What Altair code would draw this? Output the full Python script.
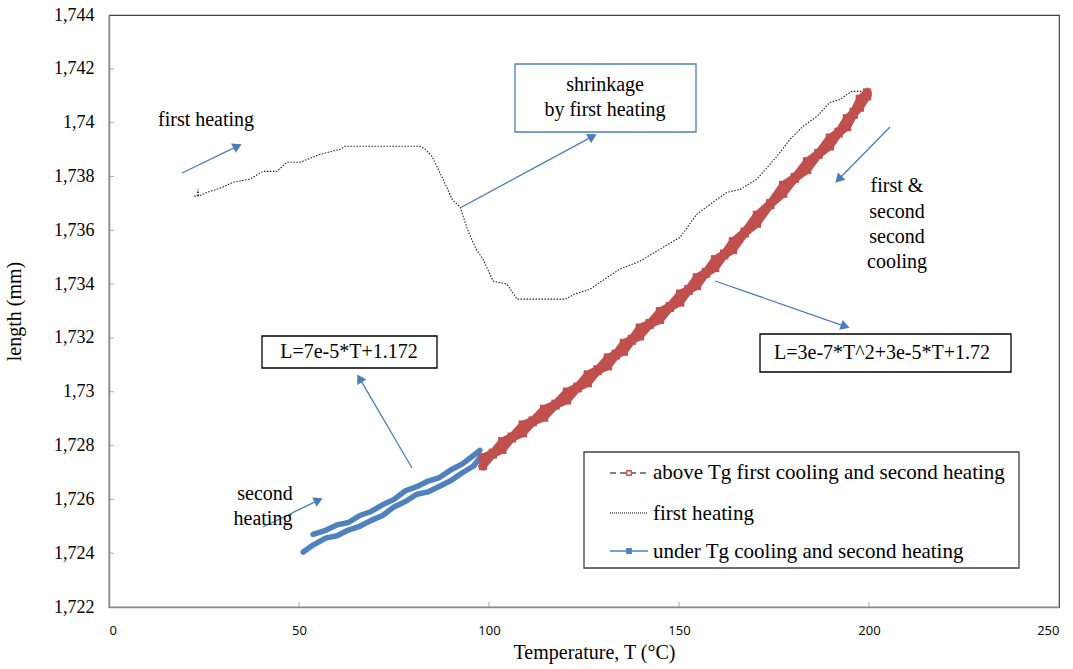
import math
import altair as alt
import pandas as pd

# ---------------- data ----------------
fh_T = [22.4, 23.2, 23.4, 23.6, 25.8, 29.2, 32.6, 37.1, 40.5, 44.2, 46.8, 50.3,
        55.5, 60.8, 62.1, 70.0, 81.8, 83.2, 85.0, 87.9, 90.3, 92.4, 94.5, 96.6,
        98.4, 101.1, 104.7, 107.4, 118.7, 120.0, 122.6, 126.6, 130.5, 134.5,
        139.7, 145.0, 150.3, 154.7, 158.9, 162.6, 166.1, 170.5, 175.8, 179.2,
        182.6, 186.3, 189.7, 192.4, 194.2, 195.5, 198.4]
fh_L = [1.73727, 1.73727, 1.73752, 1.73727, 1.73741, 1.73756, 1.73778, 1.73790,
        1.73819, 1.73819, 1.73853, 1.73853, 1.73882, 1.73901, 1.73912, 1.73912,
        1.73912, 1.73901, 1.73875, 1.73790, 1.73715, 1.73686, 1.73597, 1.73530,
        1.73493, 1.73411, 1.73400, 1.73344, 1.73344, 1.73344, 1.73363, 1.73381,
        1.73419, 1.73456, 1.73485, 1.73530, 1.73574, 1.73660, 1.73704, 1.73741,
        1.73752, 1.73790, 1.73875, 1.73938, 1.73986, 1.74023, 1.74075, 1.74086,
        1.74105, 1.74116, 1.74116]

red_T = [98.4, 101.0, 103.5, 106.0, 108.9, 111.5, 114.5, 117.5, 120.5, 123.3,
         126.0, 128.6, 131.3, 133.4, 135.5, 137.6, 139.7, 142.3, 145.0, 147.6,
         150.3, 152.5, 154.7, 157.1, 159.5, 161.9, 164.2, 167.3, 170.5, 174.0,
         177.4, 180.5, 183.7, 186.7, 189.7, 192.0, 194.2, 196.0, 197.6, 199.5]
red_cool_L = [1.72756, 1.72773, 1.72816, 1.72833, 1.72878, 1.72893, 1.72936, 1.72955,
              1.73000, 1.73019, 1.73064, 1.73083, 1.73127, 1.73141, 1.73181, 1.73196,
              1.73238, 1.73255, 1.73299, 1.73318, 1.73364, 1.73381, 1.73425, 1.73445,
              1.73492, 1.73513, 1.73559, 1.73595, 1.73657, 1.73700, 1.73768, 1.73798,
              1.73856, 1.73887, 1.73944, 1.73966, 1.74016, 1.74040, 1.74088, 1.74112]
red_heat_L = [1.72724, 1.72767, 1.72784, 1.72827, 1.72846, 1.72887, 1.72904, 1.72949,
              1.72968, 1.73013, 1.73032, 1.73077, 1.73095, 1.73135, 1.73149, 1.73190,
              1.73206, 1.73249, 1.73267, 1.73312, 1.73332, 1.73375, 1.73393, 1.73439,
              1.73460, 1.73507, 1.73527, 1.73589, 1.73625, 1.73694, 1.73736, 1.73792,
              1.73824, 1.73881, 1.73912, 1.73960, 1.73984, 1.74030, 1.74056, 1.74098]

blue_cool_T = [53.7, 57, 60, 63, 66, 69, 72, 75, 78, 81, 84, 87, 90, 93, 96, 97.6]
blue_cool_L = [1.72470, 1.72485, 1.72505, 1.72514, 1.72540, 1.72555, 1.72580, 1.72600,
               1.72632, 1.72647, 1.72668, 1.72681, 1.72710, 1.72732, 1.72764, 1.72782]
blue_heat_T = [51.1, 53.7, 57, 60, 63, 66, 69, 72, 75, 78, 81, 84, 87, 90, 93, 96, 97.6]
blue_heat_L = [1.72404, 1.72430, 1.72456, 1.72465, 1.72486, 1.72500, 1.72522, 1.72540,
               1.72572, 1.72592, 1.72619, 1.72628, 1.72649, 1.72670, 1.72699, 1.72725,
               1.72755]

x_ticks = [0, 50, 100, 150, 200, 250]
y_ticks = [1.722, 1.724, 1.726, 1.728, 1.73, 1.732, 1.734, 1.736, 1.738, 1.74, 1.742, 1.744]

legend_labels = ["above Tg first cooling and second heating", "first heating",
                 "under Tg cooling and second heating"]

# ---------------- layout ----------------
LEFT, TOP, W, H = 109, 15, 950, 592
X0, X1, Y0, Y1 = 0, 250, 1.722, 1.744
SERIF = "Liberation Serif"
RED, BLUE, ARROW = "#C0504D", "#4F81BD", "#4A7EBB"


def tx(px):
    return X0 + (px - LEFT) / W * (X1 - X0)


def ty(py):
    return Y1 - (py - TOP) / H * (Y1 - Y0)


xs = alt.Scale(domain=[X0, X1], nice=False, zero=False)
ys = alt.Scale(domain=[Y0, Y1], nice=False, zero=False)

X = alt.X("T:Q", scale=xs, axis=alt.Axis(
    values=x_ticks, format="d", title="Temperature, T (°C)", grid=False, ticks=False,
    labelFont="Open Sans", labelFontSize=13, labelPadding=17, labelColor="black",
    titleFont=SERIF, titleFontSize=20, titleFontWeight="normal", titleColor="black",
    titlePadding=5, titleX=485))
Y = alt.Y("L:Q", scale=ys, axis=alt.Axis(
    values=y_ticks, labelExpr="replace(format(datum.value, '.3~f'), '.', ',')",
    title="length (mm)", grid=False, ticks=False,
    labelFont=SERIF, labelFontSize=18, labelPadding=15, labelColor="black",
    titleFont=SERIF, titleFontSize=20, titleFontWeight="normal", titleColor="black",
    titlePadding=29))
Xn = alt.X("T:Q", scale=xs)
Yn = alt.Y("L:Q", scale=ys)

# series frames
fh = pd.DataFrame({"T": fh_T, "L": fh_L, "i": range(len(fh_T))})
rows = []
for k, (t, l) in enumerate(zip(red_T, red_cool_L)):
    rows.append({"T": t, "L": l, "s": "c", "i": k})
for k, (t, l) in enumerate(zip(red_T, red_heat_L)):
    rows.append({"T": t, "L": l, "s": "h", "i": k})
red = pd.DataFrame(rows)
rows = []
for k, (t, l) in enumerate(zip(blue_cool_T, blue_cool_L)):
    rows.append({"T": t, "L": l, "s": "c", "i": k})
for k, (t, l) in enumerate(zip(blue_heat_T, blue_heat_L)):
    rows.append({"T": t, "L": l, "s": "h", "i": k})
blue = pd.DataFrame(rows)

fh_layer = alt.Chart(fh).mark_line(color="#222222", strokeWidth=1.1, strokeDash=[1.5, 1.5]).encode(
    x=X, y=Y, order="i:Q")
blue_layer = alt.Chart(blue).mark_line(color=BLUE, strokeWidth=5.5, strokeCap="round",
                                       strokeJoin="round").encode(x=Xn, y=Yn, detail="s:N", order="i:Q")
red_layer = alt.Chart(red).mark_line(
    color=RED, strokeWidth=7.5, strokeCap="square", strokeJoin="miter",
    point=alt.OverlayMarkDef(shape="square", size=70, filled=True, color=RED, opacity=1)
).encode(x=Xn, y=Yn, detail="s:N", order="i:Q")

# interior ticks
xt = pd.DataFrame({"T": x_ticks[1:-1], "L": [Y0] * 4})
yt = pd.DataFrame({"T": [X0] * (len(y_ticks) - 2), "L": y_ticks[1:-1]})
xtick_layer = alt.Chart(xt).mark_tick(orient="vertical", size=10, thickness=1,
                                      color="#888888", clip=True).encode(x=Xn, y=Yn)
ytick_layer = alt.Chart(yt).mark_tick(orient="horizontal", size=10, thickness=1,
                                      color="#888888", clip=True).encode(x=Xn, y=Yn)

# annotation arrows (pixel positions converted to data units)
arrows_px = [((182, 173), (242, 144)), ((460, 208), (597, 134)), ((890, 127), (835, 183)),
             ((715, 281), (850, 328)), ((412, 468), (357, 374)), ((263, 527), (323, 498))]
ar_rows, hd_rows = [], []
for (a, b) in arrows_px:
    dx, dy = b[0] - a[0], b[1] - a[1]
    ln = math.hypot(dx, dy)
    ux, uy = dx / ln, dy / ln
    ar_rows.append({"T": tx(a[0]), "L": ty(a[1]), "T2": tx(b[0] - ux * 6), "L2": ty(b[1] - uy * 6)})
    ang = math.degrees(math.atan2(dx, -dy)) % 360
    hd_rows.append({"T": tx(b[0] - ux * 5), "L": ty(b[1] - uy * 5), "a": ang})
ar = pd.DataFrame(ar_rows)
hd = pd.DataFrame(hd_rows)
arrow_layer = alt.Chart(ar).mark_rule(color=ARROW, strokeWidth=1.3).encode(
    x=Xn, y=Yn, x2="T2:Q", y2="L2:Q")
head_layer = alt.Chart(hd).mark_point(shape="triangle-up", filled=True, color=ARROW,
                                      size=110, opacity=1).encode(
    x=Xn, y=Yn, angle=alt.Angle("a:Q", scale=None))

# boxes
boxes_px = [(515, 64, 696, 132, ARROW), (262, 336, 437, 368, "black"),
            (760, 334, 1011, 372, "black"), (584, 452, 1019, 568, "#404040")]
bx = pd.DataFrame([{"T": tx(a), "L": ty(b), "T2": tx(c), "L2": ty(d), "c": col}
                   for a, b, c, d, col in boxes_px])
box_layer = alt.Chart(bx).mark_rect(fill="white", strokeWidth=1.3).encode(
    x=Xn, y=Yn, x2="T2:Q", y2="L2:Q", stroke=alt.Stroke("c:N", scale=None))

# texts
texts_c = [("shrinkage", 605, 91), ("by first heating", 605, 116),
           ("first &", 897, 192), ("second", 897, 218), ("second", 897, 243), ("cooling", 897, 268),
           ("L=7e-5*T+1.172", 349, 358), ("L=3e-7*T^2+3e-5*T+1.72", 882, 359),
           ("second", 265, 500), ("heating", 263, 525)]
tc = pd.DataFrame([{"t": s, "T": tx(a), "L": ty(b)} for s, a, b in texts_c])
textc_layer = alt.Chart(tc).mark_text(font=SERIF, fontSize=20, align="center",
                                      baseline="alphabetic", color="black").encode(
    x=Xn, y=Yn, text="t:N")
texts_l = [("first heating", 158, 126)]
tl = pd.DataFrame([{"t": s, "T": tx(a), "L": ty(b)} for s, a, b in texts_l])
textl_layer = alt.Chart(tl).mark_text(font=SERIF, fontSize=20, align="left",
                                      baseline="alphabetic", color="black").encode(
    x=Xn, y=Yn, text="t:N")
leg_t = pd.DataFrame([{"t": s, "T": tx(653), "L": ty(b)}
                      for s, b in zip(legend_labels, [479, 520, 558])])
legt_layer = alt.Chart(leg_t).mark_text(font=SERIF, fontSize=21, align="left",
                                        baseline="alphabetic", color="black").encode(
    x=Xn, y=Yn, text="t:N")


# legend symbols
def seg(y, **kw):
    d = pd.DataFrame({"T": [tx(610)], "L": [ty(y)], "T2": [tx(648)]})
    return alt.Chart(d).mark_rule(**kw).encode(x=Xn, y=Yn, x2="T2:Q")


leg1 = seg(473, color="black", strokeWidth=1.2, strokeDash=[6, 4])
leg2 = seg(513, color="black", strokeWidth=1, strokeDash=[1, 1])
leg3 = seg(551, color=BLUE, strokeWidth=1.6)
lm = pd.DataFrame({"T": [tx(629), tx(629)], "L": [ty(473), ty(551)], "c": [RED, BLUE],
                   "f": ["white", BLUE]})
legm = alt.Chart(lm).mark_point(shape="square", size=20, strokeWidth=1.3, opacity=1).encode(
    x=Xn, y=Yn, stroke=alt.Stroke("c:N", scale=None), fill=alt.Fill("f:N", scale=None))

chart = alt.layer(
    fh_layer, blue_layer, red_layer, xtick_layer, ytick_layer,
    arrow_layer, head_layer, box_layer, textc_layer, textl_layer, legt_layer,
    leg1, leg2, leg3, legm
).properties(
    width=W, height=H,
    padding={"left": LEFT, "top": TOP, "right": 1073 - LEFT - W, "bottom": 669 - TOP - H},
    autosize=alt.AutoSizeParams(type="none"),
    background="white",
).configure_view(
    stroke="#404040", strokeWidth=1.2
).configure_axis(
    domainColor="#8a8a8a", domainWidth=1.5
)

chart.save("out.html", embed_options={"renderer": "svg", "actions": False})
